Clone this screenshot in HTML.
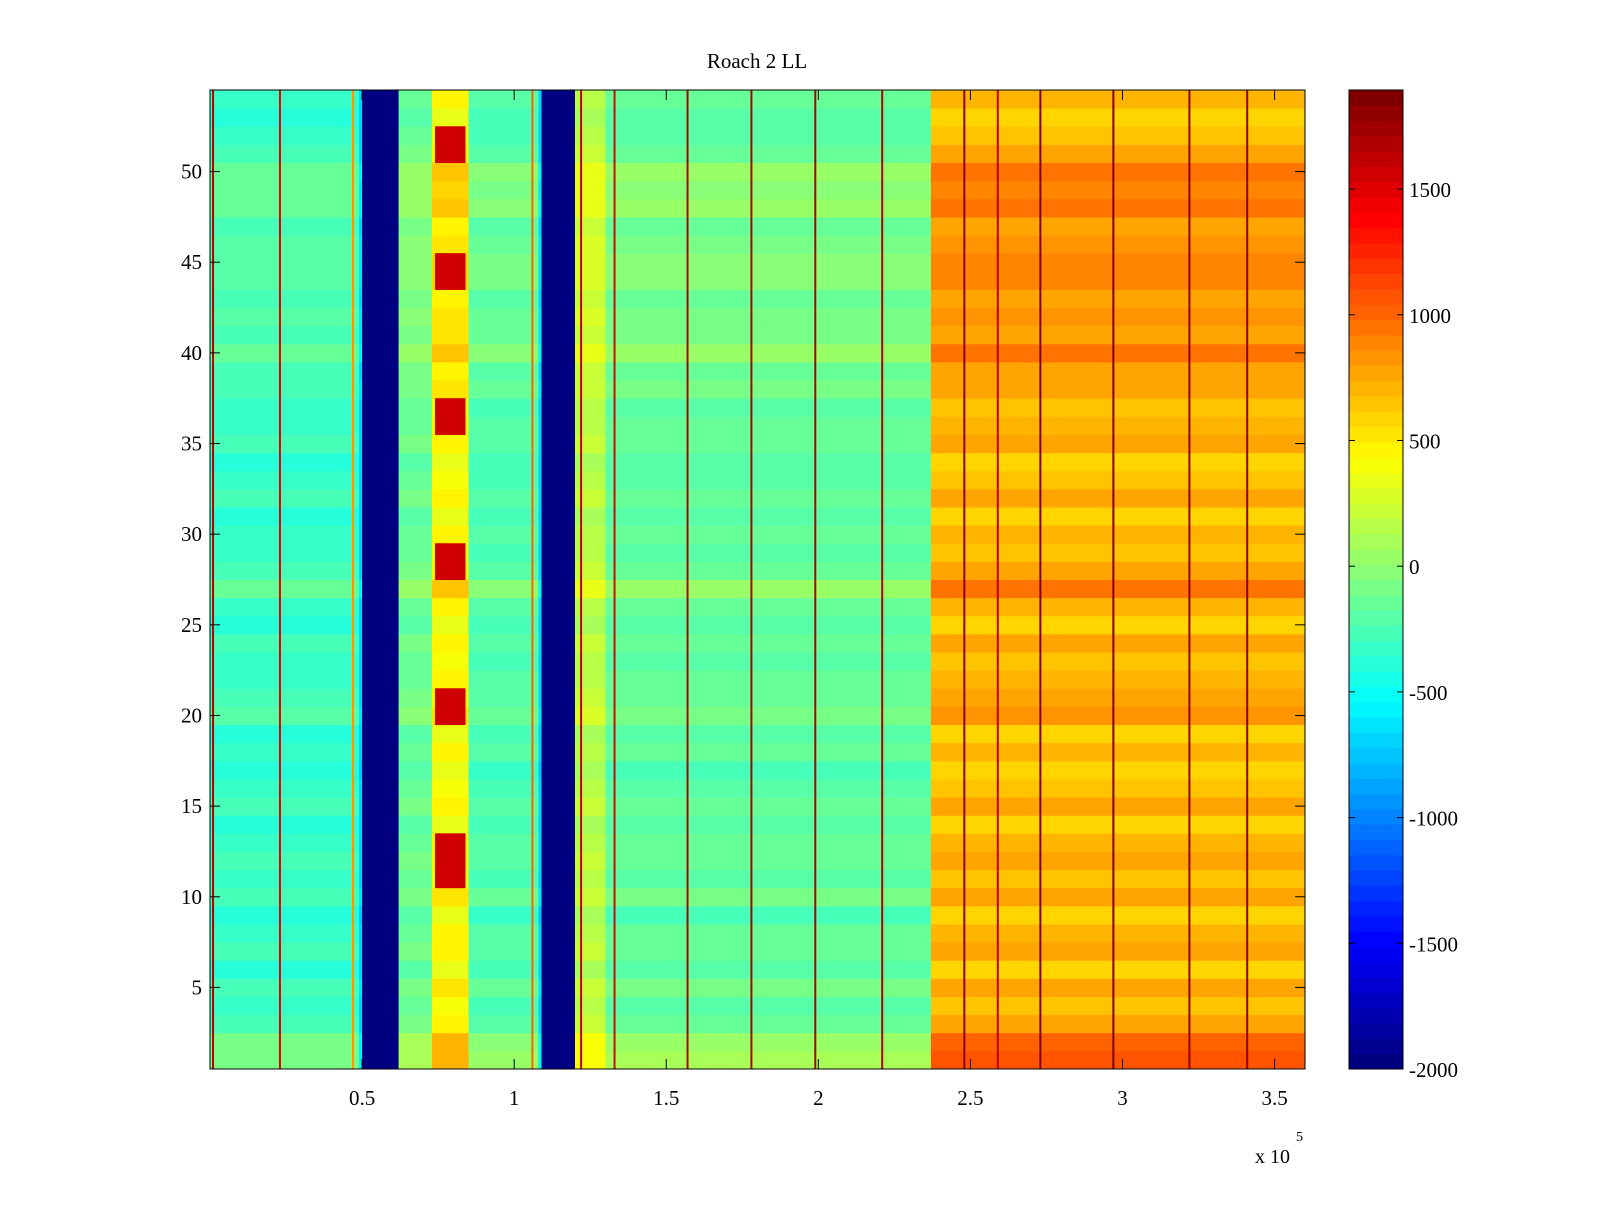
<!DOCTYPE html>
<html><head><meta charset="utf-8"><style>
html,body{margin:0;padding:0;background:#fff;}
svg text{font-family:"Liberation Serif",serif;fill:#000;}
</style></head><body>
<svg id="chart" width="1600" height="1200" xmlns="http://www.w3.org/2000/svg">
<rect width="1600" height="1200" fill="#fff"/>
<text x="757" y="68" font-size="21" text-anchor="middle">Roach 2 LL</text>
<g id="cells"></g>
<g id="lines"></g>
<rect x="210" y="90" width="1095" height="979" fill="none" stroke="#000" stroke-width="1"/>
<g id="axes"></g>
<g id="cbar"></g>
<text x="1255" y="1163" font-size="20">x 10</text>
<text x="1296" y="1141" font-size="14">5</text>
</svg>
<script>
// ---- data ----
const segStart = [0, 0.49, 0.50, 0.62, 0.73, 0.85, 1.08, 1.09, 1.20, 1.30, 2.37];
const segEnd   = [0.49, 0.50, 0.62, 0.73, 0.85, 1.08, 1.09, 1.20, 1.30, 2.37, 3.60];
const segValue = [-350, -700, -2000, -150, 400, -250, -700, -2000, 150, -200, 650];
const segAmp   = [0.6, 0.3, 0, 0.6, 0.7, 0.6, 0.3, 0, 0.6, 0.6, 0.9];
const rowOffset = [450,400,100,0,150,-50,100,50,-100,150,0,100,50,-50,100,0,-100,50,-50,200,100,50,0,100,-50,50,350,100,0,50,-50,100,0,-50,100,50,0,150,100,350,150,200,100,250,250,200,100,350,300,350,100,0,-50,50];
const blockRows = [11,12,13,20,21,28,29,36,37,44,45,51,52];
const blockValue = 1550;
const blockX = [0.74, 0.84];
const streakX = [0.01, 0.23, 0.47, 1.06, 1.22, 1.33, 1.57, 1.78, 1.99, 2.21, 2.48, 2.59, 2.73, 2.97, 3.22, 3.41];
const streakValue = [1700,1500,800,1000,1600,1500,1700,1700,1700,1700,1800,1600,1850,1850,1800,1800];
const xTicks = [0.5, 1, 1.5, 2, 2.5, 3, 3.5];
const xTickLabels = ["0.5","1","1.5","2","2.5","3","3.5"];
const yTicks = [5,10,15,20,25,30,35,40,45,50];
const cTicks = [-2000,-1500,-1000,-500,0,500,1000,1500];
// ---- scales ----
const X0=210,X1=1305,Y0=90,Y1=1069, CMIN=-2000, CMAX=1894;
const xs = v => X0 + (v-0)/(3.6-0)*(X1-X0);
const ys = v => Y1 - (v-0.5)/(54.5-0.5)*(Y1-Y0);
function jet(v){
  let t=(v-CMIN)/(CMAX-CMIN); t=Math.max(0,Math.min(1,t));
  t=Math.floor(t*63.999)/63;
  const f=x=>Math.max(0,Math.min(1,x));
  const r=f(1.5-Math.abs(4*t-3)), g=f(1.5-Math.abs(4*t-2)), b=f(1.5-Math.abs(4*t-1));
  return `rgb(${Math.round(r*255)},${Math.round(g*255)},${Math.round(b*255)})`;
}
const NS="http://www.w3.org/2000/svg";
function mk(tag,attrs,parent){const e=document.createElementNS(NS,tag);for(const k in attrs)e.setAttribute(k,attrs[k]);parent.appendChild(e);return e;}
const cells=document.getElementById('cells');
for(let s=0;s<segStart.length;s++){
  for(let r=0;r<rowOffset.length;r++){
    const row=r+1;
    const e=mk('rect',{x:xs(segStart[s]),y:ys(row+0.5),width:xs(segEnd[s])-xs(segStart[s])+0.5,height:ys(row-0.5)-ys(row+0.5)+0.5,fill:jet(segValue[s]+rowOffset[r]*segAmp[s])},cells);
    
    
  }
}
for(const row of blockRows){
  const e=mk('rect',{x:xs(blockX[0]),y:ys(row+0.5),width:xs(blockX[1])-xs(blockX[0]),height:ys(row-0.5)-ys(row+0.5)+0.5,fill:jet(blockValue)},cells);
  
  
}
const lines=document.getElementById('lines');
streakX.forEach((x,i)=>{
  const e=mk('rect',{x:xs(x)-1,y:Y0,width:2,height:Y1-Y0,fill:jet(streakValue[i])},lines);
  
  
});
const axes=document.getElementById('axes');
xTicks.forEach((t,i)=>{
  const x=xs(t);
  mk('line',{x1:x,x2:x,y1:Y1,y2:Y1-10,stroke:'#000'},axes);
  mk('line',{x1:x,x2:x,y1:Y0,y2:Y0+10,stroke:'#000'},axes);
  const e=mk('text',{x:x,y:Y1+36,'font-size':21,'text-anchor':'middle'},axes);
  e.textContent=xTickLabels[i];
  
  
});
yTicks.forEach(t=>{
  const y=ys(t);
  mk('line',{x1:X0,x2:X0+10,y1:y,y2:y,stroke:'#000'},axes);
  mk('line',{x1:X1,x2:X1-10,y1:y,y2:y,stroke:'#000'},axes);
  const e=mk('text',{x:X0-8,y:y+7,'font-size':21,'text-anchor':'end'},axes);
  e.textContent=String(t);
  
  
});
const cbar=document.getElementById('cbar');
const CX0=1349,CX1=1403;
const cy=v=>Y1-(v-CMIN)/(CMAX-CMIN)*(Y1-Y0);
for(let i=0;i<64;i++){
  const v0=CMIN+i*(CMAX-CMIN)/64, v1=CMIN+(i+1)*(CMAX-CMIN)/64;
  const e=mk('rect',{x:CX0,y:cy(v1),width:CX1-CX0,height:cy(v0)-cy(v1)+0.5,fill:jet((v0+v1)/2)},cbar);
  
  
}
mk('rect',{x:CX0,y:Y0,width:CX1-CX0,height:Y1-Y0,fill:'none',stroke:'#000'},cbar);
cTicks.forEach(t=>{
  const y=cy(t);
  mk('line',{x1:CX0,x2:CX0+6,y1:y,y2:y,stroke:'#000'},cbar);
  mk('line',{x1:CX1,x2:CX1-6,y1:y,y2:y,stroke:'#000'},cbar);
  const e=mk('text',{x:CX1+6,y:y+8,'font-size':21},cbar);
  e.textContent=String(t);
  
  
});
</script>
</body></html>
